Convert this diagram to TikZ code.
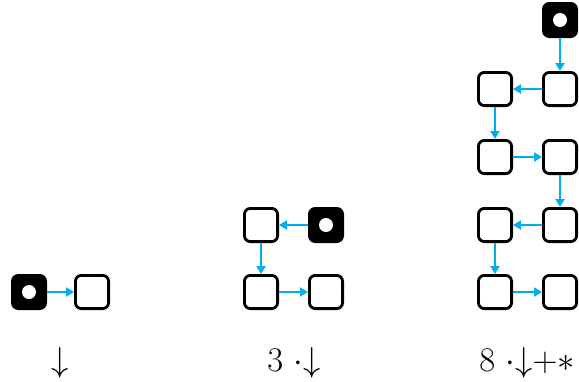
\documentclass[tikz,border=0pt]{standalone}
\usetikzlibrary{arrows.meta}
\definecolor{linkblue}{HTML}{00AEEF}
\tikzset{
  cell/.style={draw, line width=1.4pt, rounded corners=3pt, minimum size=16.6pt, inner sep=0pt},
  startcell/.style={cell, fill=black, path picture={\fill[white] (path picture bounding box.center) circle (3.5pt);}},
  link/.style={-{Triangle[length=4pt,width=4.5pt]}, draw=linkblue, fill=linkblue, line width=1pt},
}
\begin{document}
\begin{tikzpicture}[x=0.5pt, y=-0.5pt, every node/.style={font=\LARGE}]
\useasboundingbox (0,0) rectangle (579,381);

% one step
\node[startcell] (a0) at (29,292) {};
\node[cell] (a1) at (92,292) {};
\draw[link] (a0) -- (a1);
\node (la) at (60.5,363) {$\downarrow$};

% three steps
\node[startcell] (b0) at (326,225) {};
\node[cell] (b1) at (261,225) {};
\node[cell] (b2) at (261,292) {};
\node[cell] (b3) at (326,292) {};
\draw[link] (b0) -- (b1);
\draw[link] (b1) -- (b2);
\draw[link] (b2) -- (b3);
\node (lb) at (294,363) {$3\ {\cdot}{\downarrow}$};

% eight steps
\node[startcell] (c0) at (560,20) {};
\node[cell] (c1) at (560,89) {};
\node[cell] (c2) at (495,89) {};
\node[cell] (c3) at (495,157) {};
\node[cell] (c4) at (560,157) {};
\node[cell] (c5) at (560,225) {};
\node[cell] (c6) at (495,225) {};
\node[cell] (c7) at (495,292) {};
\node[cell] (c8) at (560,292) {};
\draw[link] (c0) -- (c1);
\draw[link] (c1) -- (c2);
\draw[link] (c2) -- (c3);
\draw[link] (c3) -- (c4);
\draw[link] (c4) -- (c5);
\draw[link] (c5) -- (c6);
\draw[link] (c6) -- (c7);
\draw[link] (c7) -- (c8);
\node (lc) at (527,363) {$8\ {\cdot}{\downarrow}{+}{*}$};
\end{tikzpicture}
\end{document}
